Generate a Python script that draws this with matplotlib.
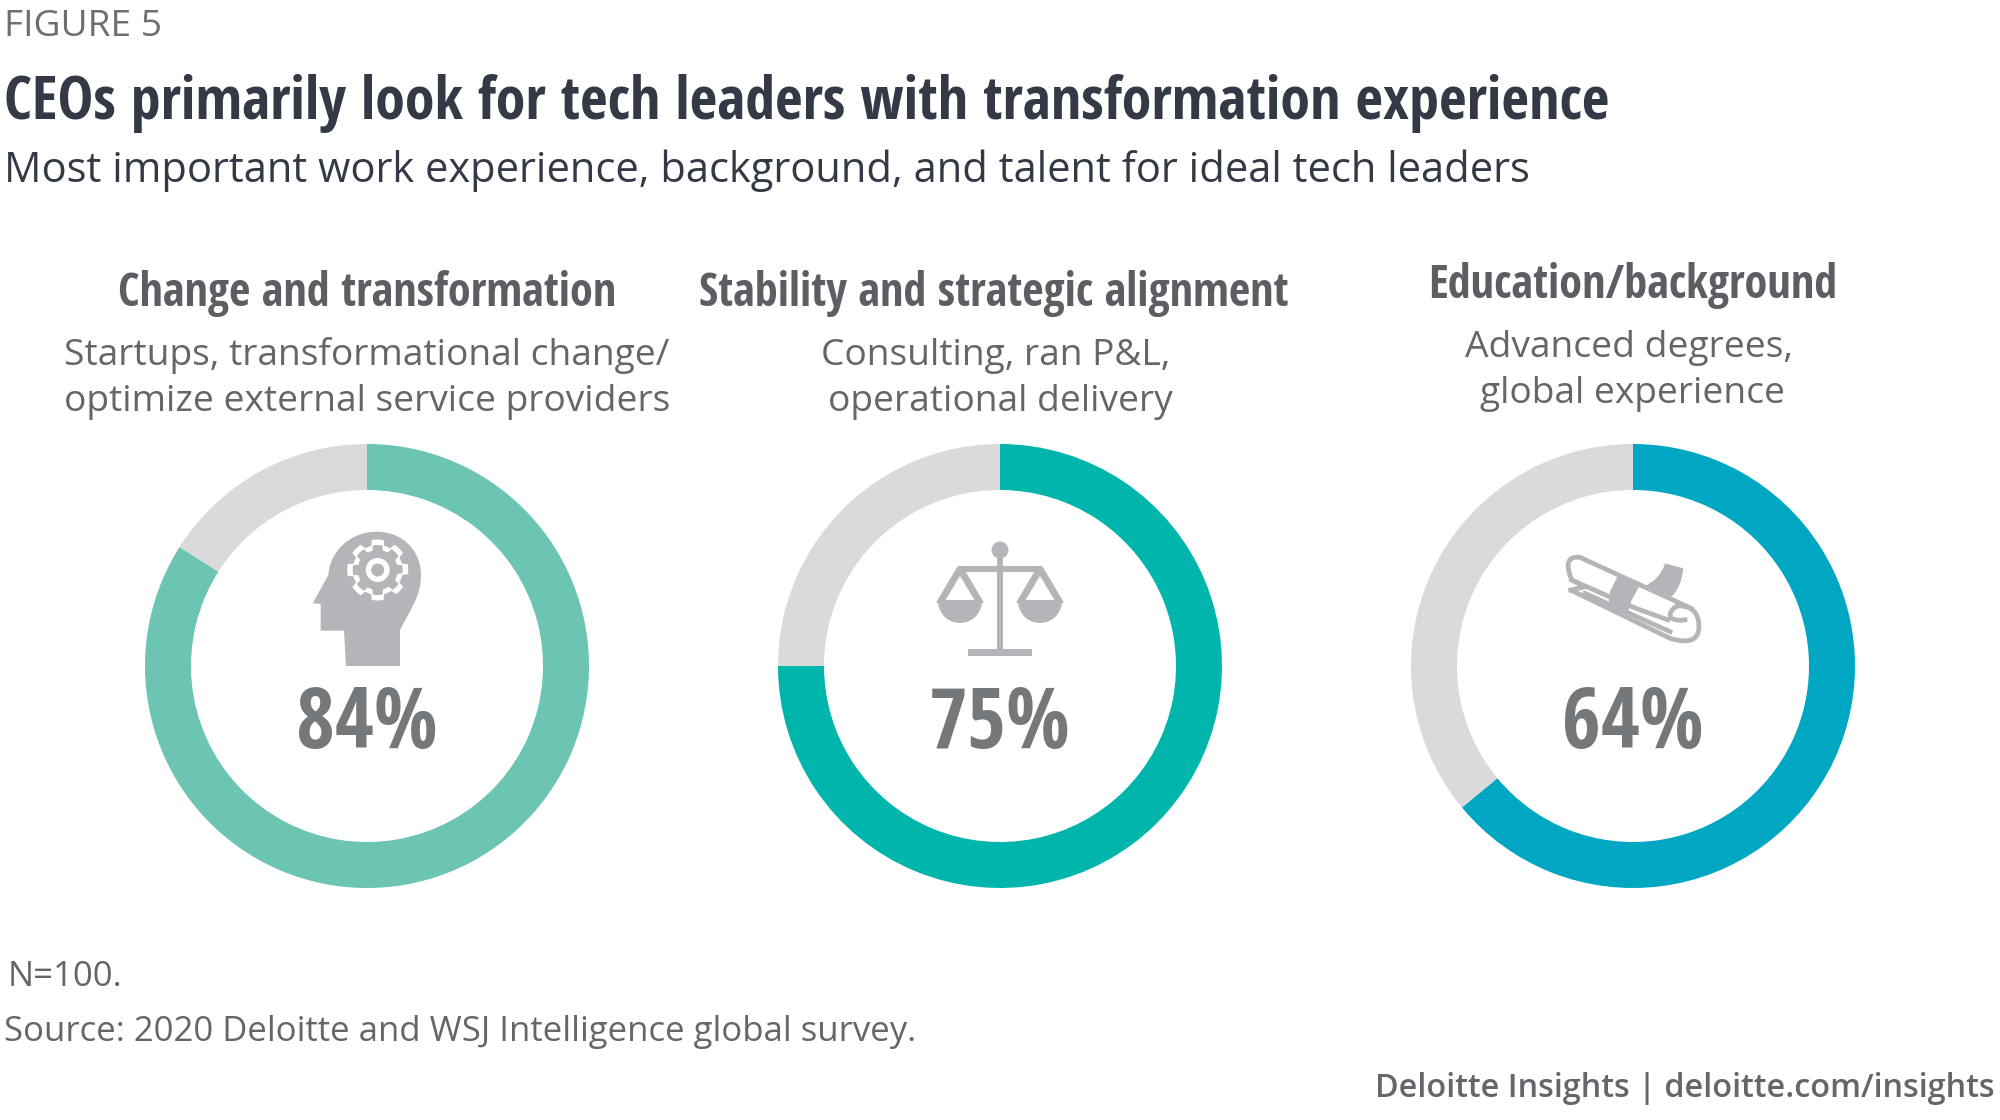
#!/usr/bin/env python3
# Deloitte figure 5: three donuts with icons
import numpy as np
import matplotlib
matplotlib.use("Agg")
import matplotlib.pyplot as plt
from matplotlib import font_manager as fm
from matplotlib.patches import Polygon, Circle, Wedge, Rectangle, PathPatch
from matplotlib.path import Path

# data
headings = ["Change and transformation", "Stability and strategic alignment", "Education/background"]
details = [["Startups, transformational change/", "optimize external service providers"],
           ["Consulting, ran P&L,", "operational delivery"],
           ["Advanced degrees,", "global experience"]]
percents = [84, 75, 64]

donut_colors = ["#6BC5B2", "#00B6AC", "#00A7C2"]
rest_color = "#DADADA"
icon_color = "#B3B5B8"

# condensed face for the headlines, whichever of these the machine has
have = {f.name for f in fm.fontManager.ttflist}
narrow = [n for n in ["Open Sans Condensed", "Roboto Condensed", "Fira Sans Condensed", "Barlow Condensed", "Open Sans"] if n in have]
plain = ["Open Sans", "DejaVu Sans"]

centers_x = [367, 1000, 1633]
center_y = 666
outer_r = 222
inner_r = 176

fig = plt.figure(figsize=(20, 11.2), dpi=100, facecolor="white")

# donuts, each in its own axes
for i, pct in enumerate(percents):
    left = (centers_x[i] - outer_r) / 2000
    bottom = 1 - (center_y + outer_r) / 1120
    ax = fig.add_axes([left, bottom, 2 * outer_r / 2000, 2 * outer_r / 1120])
    ax.pie([pct, 100 - pct], colors=[donut_colors[i], rest_color], startangle=90, counterclock=False,
           radius=1, wedgeprops={"width": 1 - inner_r / outer_r, "linewidth": 0})
    ax.set_xlim(-1, 1)
    ax.set_ylim(-1, 1)
    ax.axis("off")

# overlay in pixel coordinates for the text and icons
page = fig.add_axes([0, 0, 1, 1], zorder=5)
page.set_xlim(0, 2000)
page.set_ylim(1120, 0)
page.axis("off")
page.patch.set_alpha(0)


def gear_outline(cx, cy, r_tooth, r_valley):
    ang = np.linspace(0, 2 * np.pi, 97)
    phase = ((ang + np.pi / 16) % (np.pi / 4)) / (np.pi / 4)
    rad = np.where(phase < 0.5, r_tooth, r_valley)
    return np.c_[cx + rad * np.cos(ang), cy + rad * np.sin(ang)]


def head_icon(a):
    pts = [(228, 498), (390, 498), (390, 390),
           (420, 330), (453, 290), (453, 225),
           (453, 150), (395, 95), (320, 95),
           (245, 95), (180, 150), (175, 225),
           (128, 310), (152, 312), (152, 392), (222, 392), (228, 498)]
    codes = [Path.MOVETO, Path.LINETO, Path.LINETO] + [Path.CURVE4] * 9 + [Path.LINETO] * 4 + [Path.CLOSEPOLY]
    a.add_patch(PathPatch(Path([(270 + x / 3, 500 + y / 3) for x, y in pts], codes), fc=icon_color, ec="none"))
    cx, cy = 377.7, 570
    a.add_patch(Polygon(gear_outline(cx, cy, 30.5, 25), closed=True, fc="white", ec="none"))
    a.add_patch(Polygon(gear_outline(cx, cy, 25, 20), closed=True, fc=icon_color, ec="none"))
    a.add_patch(Circle((cx, cy), 12, fc="white", ec="none"))
    a.add_patch(Circle((cx, cy), 6.5, fc=icon_color, ec="none"))


def scales_icon(a):
    a.add_patch(Circle((1000, 550), 8.5, fc=icon_color, ec="none"))
    a.add_patch(Rectangle((996.7, 550), 6.6, 100, fc=icon_color, ec="none"))
    a.add_patch(Rectangle((959, 565.7), 82, 6.6, fc=icon_color, ec="none"))
    a.add_patch(Rectangle((968, 648.5), 64, 7.5, fc=icon_color, ec="none"))
    for px in (960, 1040):
        a.add_patch(Wedge((px, 601), 22, 0, 180, fc=icon_color, ec="none"))
        a.add_patch(Rectangle((px - 21.5, 600), 43, 2, fc=icon_color, ec="none"))
        a.plot([px - 19, px, px + 19], [601, 569, 601], color=icon_color, lw=5, solid_joinstyle="round")


def scroll_icon(a):
    def to_page(pts):
        return [(1530 + x / 3, 530 + y / 3) for x, y in pts]
    lw = 3.4
    outline = Path(to_page([(490, 238), (150, 82), (95, 75), (125, 150), (310, 232), (420, 272)]),
                   [Path.MOVETO, Path.LINETO, Path.CURVE3, Path.CURVE3, Path.LINETO, Path.LINETO])
    a.add_patch(PathPatch(outline, fc="none", ec=icon_color, lw=lw))
    lower = Path(to_page([(122, 180), (420, 325), (520, 355), (505, 270), (495, 225), (440, 228),
                          (410, 250), (425, 265), (445, 275), (472, 268)]),
                 [Path.MOVETO, Path.LINETO] + [Path.CURVE3] * 8)
    a.add_patch(PathPatch(lower, fc="none", ec=icon_color, lw=lw))
    a.plot(*zip(*to_page([(125, 150), (165, 170), (122, 180)])), color=icon_color, lw=lw)
    a.plot(*zip(*to_page([(165, 190), (420, 305)])), color=icon_color, lw=lw)
    a.add_patch(Polygon(to_page([(240, 185), (262, 140), (330, 165), (305, 210), (292, 255), (235, 228)]),
                        closed=True, fc=icon_color, ec="none"))
    tail = Path(to_page([(340, 170), (390, 150), (405, 100), (460, 115), (455, 170), (425, 200), (340, 170)]),
                [Path.MOVETO, Path.CURVE3, Path.CURVE3, Path.LINETO, Path.CURVE3, Path.CURVE3, Path.CLOSEPOLY])
    a.add_patch(PathPatch(tail, fc=icon_color, ec="none"))


head_icon(page)
scales_icon(page)
scroll_icon(page)

# header text
page.text(4, 36, "FIGURE 5", family=plain, fontsize=26.7, color="#6B6E72")
page.text(4, 119, "CEOs primarily look for tech leaders with transformation experience", family=narrow,
          fontsize=43.3, fontweight="bold", color="#333A45")
page.text(4, 182, "Most important work experience, background, and talent for ideal tech leaders", family=plain,
          fontsize=30, color="#333A45")

# column text
heading_y = [306, 306, 298]
detail_y = [[365, 411], [365, 411], [357, 403]]
heading_x = [367, 994, 1633]
detail_x = [[367, 367], [996, 1000], [1629, 1633]]
for i in range(3):
    page.text(heading_x[i], heading_y[i], headings[i], ha="center", family=narrow, fontsize=33.4,
              fontweight="bold", color="#5B5F64")
    for j, line in enumerate(details[i]):
        page.text(detail_x[i][j], detail_y[i][j], line, ha="center", family=plain, fontsize=26.75, color="#63666A")
    page.text(centers_x[i], 748, f"{percents[i]}%", ha="center", family=narrow, fontsize=60.6,
              fontweight="bold", color="#75787B")

# footer
page.text(8, 986, "N=100.", family=plain, fontsize=25, color="#63666A")
page.text(4, 1041, "Source: 2020 Deloitte and WSJ Intelligence global survey.", family=plain, fontsize=25, color="#63666A")
page.text(1995, 1097, "Deloitte Insights | deloitte.com/insights", ha="right", family=plain, fontsize=23.35,
          fontweight="semibold", color="#63666A")

fig.savefig("out.png", dpi=100)
